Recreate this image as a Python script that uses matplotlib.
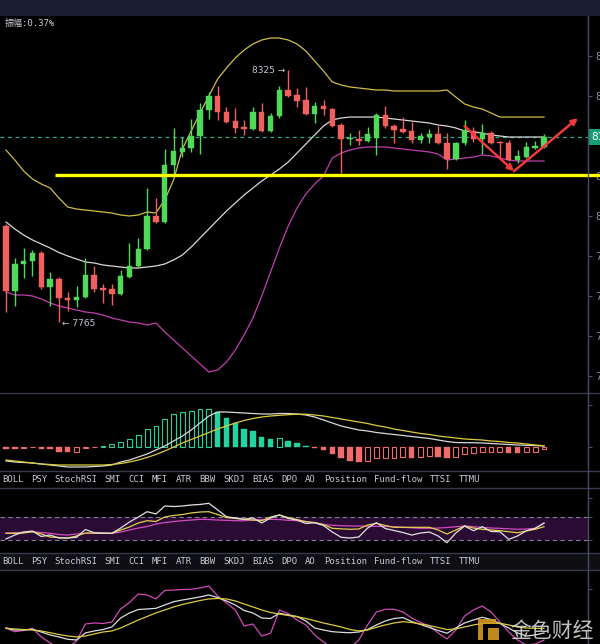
import matplotlib
matplotlib.use('Agg')
import matplotlib.pyplot as plt
from matplotlib.patches import Rectangle, Polygon
from matplotlib.lines import Line2D
import numpy as np

# ---------------- data ----------------
opens = [7978, 7833, 7893, 7900, 7918, 7842, 7860, 7818, 7813, 7820,
         7869, 7840, 7838, 7827, 7864, 7889, 7927, 8000, 7987, 8114,
         8143, 8151, 8178, 8236, 8267, 8232, 8212, 8198, 8194, 8232,
         8189, 8223, 8280, 8269, 8258, 8227, 8245, 8238, 8203, 8171,
         8171, 8167, 8174, 8225, 8200, 8194, 8189, 8169, 8176, 8183,
         8163, 8127, 8163, 8189, 8171, 8185, 8165, 8163, 8125, 8131,
         8151, 8154]
highs = [7982, 7907, 7929, 7925, 7922, 7876, 7864, 7831, 7844, 7907,
         7889, 7849, 7849, 7880, 7940, 7951, 8062, 8040, 8149, 8196,
         8176, 8216, 8252, 8276, 8289, 8243, 8240, 8214, 8243, 8252,
         8229, 8289, 8325, 8285, 8287, 8254, 8258, 8240, 8207, 8185,
         8192, 8198, 8229, 8245, 8205, 8220, 8209, 8185, 8194, 8200,
         8185, 8165, 8214, 8198, 8205, 8189, 8167, 8169, 8147, 8165,
         8167, 8183]
lows = [7787, 7800, 7862, 7867, 7838, 7800, 7765, 7789, 7798, 7818,
        7831, 7807, 7802, 7824, 7862, 7887, 7925, 7985, 7985, 8091,
        8131, 8143, 8138, 8216, 8214, 8207, 8185, 8180, 8192, 8187,
        8187, 8218, 8265, 8243, 8225, 8207, 8225, 8198, 8096, 8158,
        8158, 8165, 8136, 8196, 8163, 8185, 8163, 8163, 8163, 8160,
        8105, 8125, 8158, 8165, 8138, 8160, 8131, 8123, 8118, 8129,
        8149, 8151]
closes = [7833, 7893, 7900, 7918, 7842, 7860, 7818, 7813, 7820, 7869,
          7838, 7836, 7827, 7867, 7889, 7927, 8000, 7987, 8114, 8145,
          8151, 8178, 8236, 8267, 8232, 8209, 8196, 8194, 8232, 8189,
          8223, 8280, 8267, 8256, 8227, 8245, 8238, 8200, 8171, 8174,
          8167, 8183, 8225, 8200, 8192, 8187, 8169, 8178, 8183, 8163,
          8127, 8163, 8192, 8171, 8185, 8163, 8163, 8125, 8134, 8154,
          8156, 8176]

boll_upper = [8147.0, 8124.8, 8100.3, 8082.5, 8071.4, 8062.5, 8040.2, 8020.2, 8015.7, 8013.5,
              8011.3, 8009.1, 8006.8, 8002.4, 8000.2, 8002.4, 8009.1, 8006.8, 8035.8, 8080.3,
              8149.2, 8189.3, 8229.3, 8267.2, 8305.0, 8329.5, 8351.7, 8369.5, 8382.9, 8391.8,
              8396.2, 8396.2, 8391.8, 8382.9, 8367.3, 8345.0, 8322.8, 8298.3, 8291.6, 8287.2,
              8285.0, 8282.7, 8280.5, 8280.5, 8278.3, 8278.3, 8278.3, 8278.3, 8278.3, 8278.3,
              8280.5, 8264.9, 8249.4, 8242.7, 8238.2, 8229.3, 8220.4, 8220.4, 8220.4, 8220.4,
              8220.4, 8220.4]
boll_mid = [7986.8, 7971.2, 7957.9, 7946.8, 7937.9, 7929.0, 7918.9, 7911.2, 7904.5, 7897.8,
            7895.6, 7891.1, 7888.9, 7886.7, 7884.5, 7884.5, 7886.7, 7888.9, 7893.4, 7902.3,
            7913.4, 7931.2, 7951.2, 7971.2, 7991.3, 8011.3, 8029.1, 8046.9, 8062.5, 8078.0,
            8091.4, 8104.7, 8120.3, 8140.3, 8160.4, 8180.4, 8200.4, 8213.8, 8218.2, 8220.4,
            8220.4, 8220.4, 8220.4, 8218.2, 8216.0, 8213.8, 8211.5, 8209.3, 8207.1, 8202.6,
            8200.4, 8196.0, 8189.3, 8187.1, 8184.8, 8180.4, 8178.2, 8175.9, 8175.9, 8175.9,
            8175.9, 8175.9]
boll_lower = [7831.1, 7824.4, 7824.4, 7822.2, 7815.5, 7806.6, 7799.9, 7795.5, 7791.0, 7786.6,
              7784.3, 7779.9, 7773.2, 7768.8, 7764.3, 7762.1, 7757.6, 7762.1, 7742.1, 7724.3,
              7706.5, 7688.7, 7670.9, 7653.1, 7657.5, 7675.3, 7702.0, 7735.4, 7773.2, 7822.2,
              7875.6, 7929.0, 7977.9, 8018.0, 8049.1, 8071.4, 8089.2, 8129.2, 8140.3, 8147.0,
              8151.5, 8153.7, 8153.7, 8153.7, 8151.5, 8149.2, 8147.0, 8144.8, 8142.6, 8138.1,
              8124.8, 8127.0, 8129.2, 8131.4, 8135.9, 8133.7, 8129.2, 8124.8, 8122.5, 8122.5,
              8122.5, 8122.5]

support_level = 8091
high_label = 8325
low_label = 7765
amplitude_text = '振幅:0.37%'
price_ticks = [8356, 8267, 8178, 8089, 8000, 7911, 7822, 7733, 7644]

macd_hist = [-2, -2.3, -1.7, -0.7, -2.5, -2.6, -5, -5.3, -5, -1.7,
             -0.7, 0.7, 2.7, 5, 7.3, 11.7, 17.3, 20.7, 27.3, 32.7,
             34.3, 35.7, 37.3, 37.5, 34.7, 29, 23.3, 17.7, 15.7, 10,
             7.7, 8.3, 5.7, 4, 0.7, -1, -3.7, -7, -11.7, -14.3,
             -15, -14.3, -11.7, -11, -11, -10.8, -11.7, -10.3, -9.7, -10,
             -11.7, -10.3, -7.7, -6.7, -5.3, -5.3, -5.2, -6.7, -6.9, -5.3,
             -5, -2.7]
macd_dif = [-14.5, -15.5, -16, -16.5, -17.5, -18.5, -19.5, -20.5, -20.5, -20.5,
            -20, -19.5, -18.5, -15.5, -13.5, -10.5, -7.5, -3.5, 0.5, 5.5,
            10.5, 16.5, 23.5, 30.5, 34.5, 34.5, 34, 33.5, 33, 32.5,
            32.5, 33, 33, 32.5, 31.5, 29.5, 26.5, 23.5, 20.5, 18.5,
            16.5, 15.5, 14, 13, 12, 11, 10, 9, 8, 6.5,
            5, 4, 3.8, 3.8, 3.5, 3, 2.5, 2, 1.5, 1.2,
            0.9, 0.5]
macd_dea = [-13.5, -14.5, -15.5, -16.5, -17.5, -18, -18.5, -18.5, -18.5, -18.5,
            -18.5, -18.5, -18, -17, -15.5, -13.5, -11, -8, -4.5, -0.5,
            3.5, 7, 10.5, 14, 17.5, 20.5, 23.5, 26, 28, 29.5,
            30.5, 31.2, 31.8, 32.3, 32.3, 31.5, 30.5, 29, 27.5, 26,
            24.5, 23, 21, 19.5, 17.5, 16, 14.5, 13, 12, 10.5,
            9.5, 8.5, 7.5, 7, 6.5, 5.5, 5, 4, 3.5, 2.5,
            1.5, 0.8]

rsi_white = [31.8, 38.8, 44.1, 45.9, 36.2, 38.8, 33.5, 33.5, 34.8, 48.5,
             42.9, 42.3, 41.8, 51.1, 61.7, 70.5, 79.9, 75.8, 89.9, 89.0,
             89.9, 91.7, 92.6, 94.7, 82.9, 71.1, 68.8, 66.5, 68.8, 60.0,
             68.8, 74.1, 67.9, 65.2, 59.1, 60.5, 55.6, 44.1, 34.8, 33.5,
             35.3, 51.1, 60.5, 50.3, 46.7, 43.2, 38.8, 42.3, 44.1, 37.1,
             25.2, 42.3, 54.7, 46.4, 53.4, 45.0, 44.6, 31.2, 37.1, 46.4,
             50.6, 59.4]
rsi_yellow = [41.8, 41.8, 42.3, 44.6, 40.6, 35.3, 34.4, 33.5, 37.1, 42.3,
              42.3, 41.8, 41.8, 47.6, 52.9, 60.0, 64.0, 62.6, 70.5, 73.2,
              74.9, 77.6, 79.3, 79.9, 74.9, 69.6, 67.9, 66.5, 65.2, 64.0,
              70.5, 74.1, 69.6, 66.1, 62.2, 60.8, 57.3, 50.6, 49.7, 48.9,
              49.4, 56.4, 59.4, 55.6, 52.4, 52.4, 52.4, 52.4, 52.4, 47.6,
              40.6, 47.6, 54.7, 51.1, 48.9, 47.6, 46.4, 44.6, 42.9, 45.9,
              48.9, 53.4]
rsi_magenta = [42.3, 42.9, 43.6, 44.6, 43.2, 41.8, 39.7, 38.8, 40.6, 41.8,
               41.8, 41.8, 41.8, 44.1, 47.6, 51.1, 53.8, 58.2, 60.8, 62.6,
               64.0, 65.2, 66.5, 66.1, 65.2, 64.7, 64.0, 64.0, 65.2, 66.1,
               66.5, 66.1, 64.7, 64.0, 62.6, 60.0, 57.3, 55.9, 55.2, 54.7,
               54.7, 54.3, 54.1, 53.8, 53.4, 52.4, 51.5, 50.6, 50.6, 51.1,
               52.0, 53.3, 54.7, 53.4, 52.4, 51.1, 50.6, 49.7, 48.9, 49.4,
               50.6, 60.5]

kdj_k = [27.5, 25, 25, 25.9, 22.5, 18.8, 16.3, 13.4, 12.5, 21.3,
         23.8, 25.6, 28.8, 40, 46.3, 50.6, 51.3, 52.1, 56.3, 60.4,
         62.5, 64.4, 66.3, 68.8, 65.6, 61.3, 56.3, 49.4, 46.3, 40,
         39.4, 45.9, 43.8, 41.9, 36.3, 27.5, 25, 22.9, 22.1, 21.6,
         22.5, 25.6, 31.3, 36.3, 39.4, 40.6, 35.6, 31.9, 28.1, 24.4,
         20.9, 27.5, 33.8, 37.5, 40.9, 38.1, 33.1, 27.5, 21.3, 17.5,
         18.8, 21.3]
kdj_d = [27.1, 26.3, 25.6, 25, 23.8, 21.6, 19.4, 17.5, 16.3, 17.5,
         20, 22.5, 23.8, 27.5, 32.5, 37.5, 41.9, 46.3, 50, 53.8,
         56.9, 59.4, 61.9, 63.8, 64.4, 63.8, 61.3, 57.5, 53.8, 50,
         46.9, 45, 43.1, 41.6, 39.4, 36.6, 33.8, 31.3, 28.8, 25.6,
         23.8, 25, 28.4, 31.3, 33.8, 35.4, 34.4, 32.5, 30.6, 28.1,
         25.6, 26.3, 28.8, 31.3, 33.1, 33.4, 33.4, 31.3, 28.8, 27.5,
         27.1, 27.1]
kdj_j = [27.1, 22.9, 24.4, 27.1, 16.3, 8.8, 2.5, 2.5, 11.3, 32.5,
         33.8, 33.1, 35, 51.3, 59.4, 70, 68.8, 63.8, 74.4, 75,
         75.6, 75.9, 77.5, 80, 67.5, 58.8, 50, 30, 32.5, 17.5,
         20.9, 50, 45.6, 37.5, 31.3, 18.8, 10, 2.5, 0, 2.5,
         12.5, 31.3, 47.5, 50.9, 50.9, 47.5, 40, 34.4, 30, 21.3,
         13.8, 25, 42.5, 50, 55, 47.5, 35, 22.5, 12.5, 6.3,
         7.5, 12.5]

indicator_tabs = ['BOLL', 'PSY', 'StochRSI', 'SMI', 'CCI', 'MFI', 'ATR', 'BBW',
                  'SKDJ', 'BIAS', 'DPO', 'AO', 'Position', 'Fund-flow', 'TTSI', 'TTMU']
tab_x_px = [2, 31, 54, 104, 128, 152, 176, 199, 223, 252, 281, 305, 324, 374, 430, 459]

arrow1 = [(52.0, 8200), (57.6, 8100)]
arrow2 = [(57.6, 8100), (64.85, 8218)]

# ---------------- style ----------------
W, H = 600, 644
BG = '#000000'
UP = '#4fd85a'
DOWN = '#f0605f'
AXIS_C = '#484d64'
SEP_C = '#363a4a'
TXT_C = '#c6cad6'
XL = (-0.68, 65.99)
n = len(closes)
x = np.arange(n)

fig = plt.figure(figsize=(W / 100, H / 100), dpi=100, facecolor=BG)


def rect(top, bot, right=588):
    return [0, (H - bot) / H, right / W, (bot - top) / H]


def fy(px):
    return 1 - px / H


def style(a):
    a.set_facecolor(BG)
    for s in a.spines.values():
        s.set_visible(False)
    a.tick_params(axis='x', bottom=False, labelbottom=False)
    a.yaxis.tick_right()
    a.tick_params(axis='y', direction='out', length=3, width=0.8, color=AXIS_C,
                  labelcolor='#8d92a3', labelsize=7.5, pad=2)
    a.set_xlim(*XL)


# top bar
fig.patches.append(Rectangle((0, fy(16)), 1, 16 / H, transform=fig.transFigure,
                             facecolor='#1b1e30', edgecolor='none', zorder=0))
# label strip 2 background
fig.patches.append(Rectangle((0, fy(570)), 1, (570 - 553.3) / H, transform=fig.transFigure,
                             facecolor='#0f0f13', edgecolor='none', zorder=0))

# ---------------- main panel ----------------
ax = fig.add_axes(rect(16, 393))
style(ax)
ax.set_ylim(7606.3, 8445.2)
ax.set_yticks(price_ticks)
# the tick hidden behind the current-price box gets no label
ax.set_yticklabels(['' if abs(t - closes[-1]) < 20 else str(t) for t in price_ticks])

ax.plot(x, boll_upper, color='#cdbf45', lw=0.9, zorder=2)
ax.plot(x, boll_mid, color='#d8d8d8', lw=0.9, zorder=2)
ax.plot(x, boll_lower, color='#c23fae', lw=0.9, zorder=2)

for i in range(n):
    o, h, l, c = opens[i], highs[i], lows[i], closes[i]
    col = UP if c >= o else DOWN
    ax.vlines(i, l, h, color=col, lw=1.0, zorder=3)
    ax.bar(i, max(abs(c - o), 1.2), bottom=min(o, c), width=0.62, color=col,
           edgecolor=col, lw=0.3, zorder=4)

ax.axhline(closes[-1], color='#27a893', ls=(0, (3, 3)), lw=0.9, zorder=1)
ax.plot([5.56, 67.5], [support_level, support_level], color='#ffff00', lw=2.4,
        clip_on=False, zorder=6, solid_capstyle='butt')

ax.text(32 - 0.35, high_label, f'{high_label} \u2192', ha='right', va='center',
        color='#c3c6cf', fontsize=6.5)
ax.text(6 + 0.35, low_label - 3, f'\u2190 {low_label}', ha='left', va='center',
        color='#c3c6cf', fontsize=6.5)

for (x0, y0), (x1, y1) in [arrow1, arrow2]:
    ax.annotate('', xy=(x1, y1), xytext=(x0, y0),
                arrowprops=dict(arrowstyle='-|>', color='#f03a3a', lw=1.8,
                                mutation_scale=9, shrinkA=0, shrinkB=0),
                annotation_clip=False, zorder=7)

ax.text(1.006, closes[-1], f'{closes[-1]}', transform=ax.get_yaxis_transform(),
        ha='left', va='center', color='white', fontsize=7.5, clip_on=False,
        bbox=dict(boxstyle='square,pad=0.3', fc='#179e74', ec='none'), zorder=8)

# ---------------- MACD panel ----------------
am = fig.add_axes(rect(393, 471))
style(am)
am.set_ylim(-24.5, 53.5)
am.set_yticks([41.5, 0])
am.set_yticklabels(['', ''])
prev = None
for i, v in enumerate(macd_hist):
    falling = prev is not None and v < prev
    if v >= 0:
        col = '#22d39f'
        filled = falling
    else:
        col = '#f26b6b'
        filled = falling or prev is None
    if filled:
        am.bar(i, v, width=0.62, color=col, edgecolor=col, lw=0.3, zorder=3)
    else:
        am.bar(i, v, width=0.55, facecolor='none', edgecolor=col, lw=0.8, zorder=3)
    prev = v
am.plot(x, macd_dif, color='#d9d9d9', lw=0.9, zorder=4)
am.plot(x, macd_dea, color='#dccb3e', lw=0.9, zorder=4)

# ---------------- RSI panel ----------------
ar = fig.add_axes(rect(487.5, 553.3))
style(ar)
ar.set_ylim(6.6, 122.5)
ar.set_yticks([104, 70, 30])
ar.set_yticklabels(['', '', ''])
ar.axhspan(30, 70, color='#290b34', zorder=0, lw=0)
for lvl in (30, 70):
    ar.axhline(lvl, color='#8b7b9c', ls=(0, (4, 3)), lw=0.8, zorder=1)
ar.plot(x, rsi_magenta, color='#d24cc0', lw=0.9, zorder=3)
ar.plot(x, rsi_yellow, color='#e3d04a', lw=0.9, zorder=4)
ar.plot(x, rsi_white, color='#e0e0e0', lw=0.9, zorder=5)

# ---------------- KDJ panel ----------------
ak = fig.add_axes(rect(570, 644))
style(ak)
ak.set_ylim(7.5, 100)
ak.set_yticks([76])
ak.set_yticklabels([''])
ak.plot(x, kdj_j, color='#d04ab8', lw=0.9, zorder=3)
ak.plot(x, kdj_k, color='#dcdcdc', lw=0.9, zorder=4)
ak.plot(x, kdj_d, color='#dccb3e', lw=0.9, zorder=5)

# ---------------- separators / axis line ----------------
for ypx in (393, 471, 487.5, 553.3, 570):
    fig.add_artist(Line2D([0, 1], [fy(ypx), fy(ypx)], transform=fig.transFigure,
                          color=SEP_C, lw=1.0, zorder=10))
fig.add_artist(Line2D([588 / W, 588 / W], [0, fy(16)], transform=fig.transFigure,
                      color=AXIS_C, lw=1.0, zorder=10))

# ---------------- texts ----------------
for name, xp in zip(indicator_tabs, tab_x_px):
    for ycen in (479, 561.5):
        fig.text(xp / W, fy(ycen), name, family='DejaVu Sans Mono', fontsize=6.5,
                 color=TXT_C, va='center', ha='left')

fig.text(5 / W, fy(23), amplitude_text, family=['DejaVu Sans Mono', 'Noto Sans CJK SC'],
         fontsize=6.5, color='#c8ccd6', va='center', ha='left')

# watermark
logo = [(478, 619), (496, 619), (496, 624), (483, 624), (483, 640), (478, 640)]
fig.patches.append(Polygon([(px / W, fy(py)) for px, py in logo], closed=True,
                           transform=fig.transFigure, facecolor='#d39a1f',
                           edgecolor='none', alpha=0.9, zorder=11))
logo2 = [(488, 628), (499, 628), (499, 640), (488, 640)]
fig.patches.append(Polygon([(px / W, fy(py)) for px, py in logo2], closed=True,
                           transform=fig.transFigure, facecolor='#d39a1f',
                           edgecolor='none', alpha=0.9, zorder=11))
fig.text(510 / W, fy(631), '金色财经', family=['Noto Sans CJK SC', 'DejaVu Sans'],
         fontsize=15, color='#e2e2e2', alpha=0.85, va='center', ha='left', zorder=12)

fig.savefig('out.png', dpi=100, facecolor=BG)
